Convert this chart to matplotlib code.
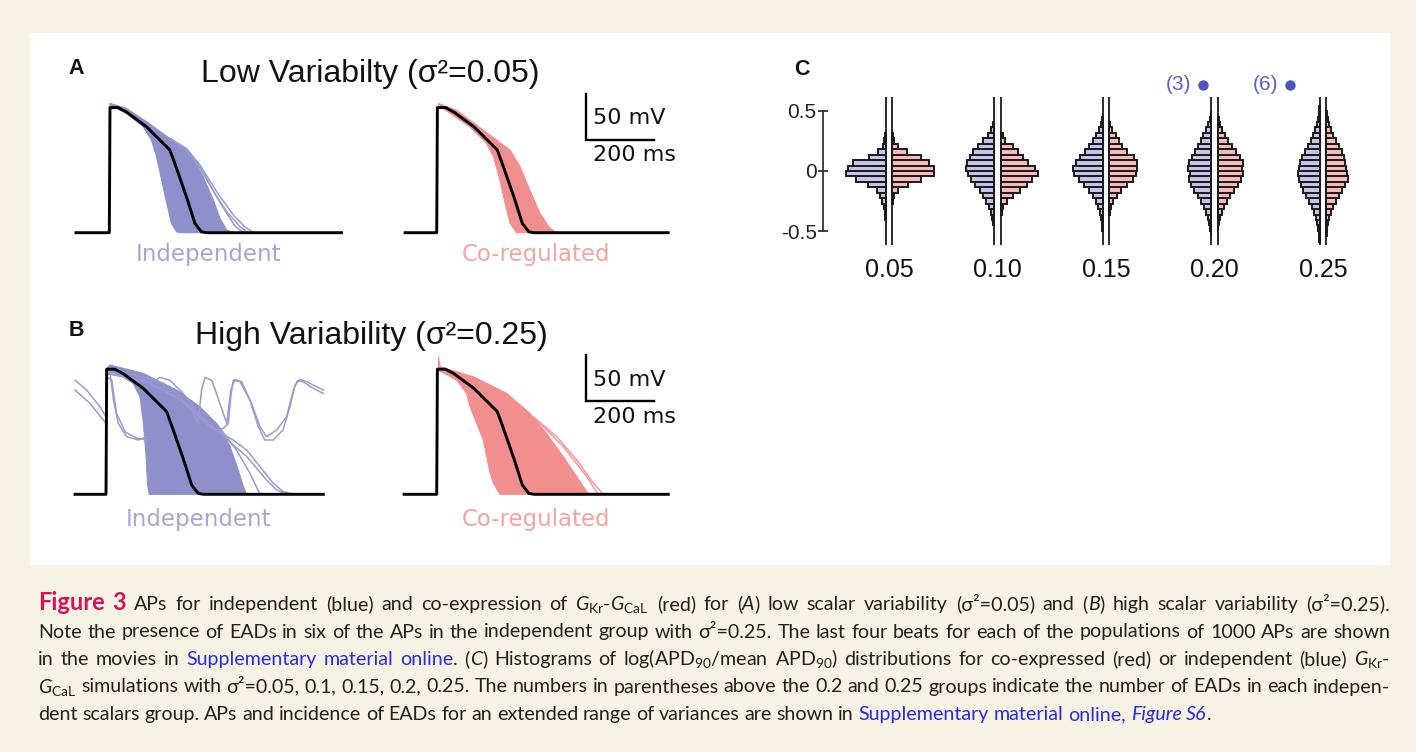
import numpy as np
import matplotlib
matplotlib.use('Agg')
import matplotlib.pyplot as plt
from matplotlib.patches import Rectangle

plt.rcParams['mathtext.fontset'] = 'custom'
plt.rcParams['mathtext.rm'] = 'Lato'
plt.rcParams['mathtext.it'] = 'Lato:italic'
plt.rcParams['mathtext.bf'] = 'Lato:bold'

# ------------------------------------------------------------------ data
# mean (baseline-model) action potential, ms / mV
MEAN_T = [0, 1, 2, 26, 51, 110, 178, 193, 227, 252, 271, 286]
MEAN_V = [-85, -20, 51, 51, 46, 30, 5, -10, -46, -75, -84, -85]
REST_V = -85
# panel order: A-independent, A-coregulated, B-independent, B-coregulated
PANEL_START = [-98, -93, -91, -96]
PANEL_END = [683, 681, 639, 681]

# population envelopes (late = last-repolarising edge, early = first)
A_IND_LATE_T = [2, 51, 110, 178, 218, 247, 276, 306, 325, 345, 365]
A_IND_LATE_V = [55.5, 50, 35.5, 17.4, 6.6, -4.3, -24, -49.5, -69, -82, -85]
A_IND_EARLY_T = [2, 51, 100, 124, 139, 154, 169, 183, 198, 208]
A_IND_EARLY_V = [53.6, 44.6, 30, 15.6, -2.5, -27.8, -53, -75, -84, -85]
A_IND_OUT_T = [[178, 227, 267, 316, 365, 399, 424],
               [178, 222, 257, 301, 345, 385, 409],
               [178, 230, 280, 330, 370, 395]]
A_IND_OUT_V = [[17.4, 6.5, -11.5, -40.5, -66, -78.7, -85],
               [17.4, 7.2, -8, -37, -62, -78.7, -85],
               [17.4, 5, -22, -55, -78, -85]]

A_CO_LATE_T = [5, 59, 137, 216, 245, 274, 304, 333, 353]
A_CO_LATE_V = [55.5, 48, 26.5, 4.8, -13, -38.7, -64, -80, -85]
A_CO_EARLY_T = [5, 98, 147, 167, 186, 201, 216, 235]
A_CO_EARLY_V = [53.6, 30, 12, -2.5, -27.8, -53, -75, -85]
A_CO_OUT_T = []
A_CO_OUT_V = []

B_IND_LATE_T = [2, 12, 110, 208, 276, 325, 365, 389, 404, 414]
B_IND_LATE_V = [52, 55.5, 46.4, 28.3, 10.2, -8, -33, -58.6, -76.7, -85]
B_IND_EARLY_T = [2, 41, 80, 100, 110, 118, 122, 127]
B_IND_EARLY_V = [50, 44.6, 35.5, 21, -8, -44, -73, -85]
B_IND_OUT_T = [
    [2, 61, 129, 188, 247, 271, 281, 291, 311, 335, 355, 367, 379, 399, 428, 453, 472, 502, 531, 551, 563, 580, 610, 639],
    [2, 51, 120, 149, 159, 188, 227, 267, 296, 325, 345, 360, 367, 374, 394, 423, 448, 467, 492, 521, 541, 556, 570, 590, 639],
    [2, 110, 208, 306, 374, 414, 453, 492, 521, 551],
    [2, 120, 237, 335, 414, 472, 502, 531],
    [-91, -57, -18, 0, 1, 12, 22, 36, 61, 95, 120],
    [-91, -47, -8, 0, 1, 17, 31, 56, 90, 122],
    [325, 384, 423, 453],
]
B_IND_OUT_V = [
    [48.2, 46.4, 41, 32, 10.2, -7.9, 28.3, 42, 39, 13.8, -7.9, 28.3, 40, 37.4, 13.8, -11.5, -22.4, -15.1, -0.7, 28.3, 38.4, 37.4, 30, 24.7],
    [46.4, 42.8, 35.5, 40, 42, 39, 24.7, 4.8, -8, -15, -13.3, -8, 21, 39, 37.4, 17.4, -11.5, -26, -26, -15, 10.2, 33.7, 40, 37.4, 28.3],
    [46.4, 39, 21, -11.5, -26, -37, -55, -73, -82, -85],
    [47, 37.4, 13.8, -18.8, -44, -69.4, -80.3, -85],
    [39, 28.3, 10.2, -0.7, 44.6, 46.4, 17.4, -8, -22.4, -26, -22.4],
    [28.3, 13.8, -4.3, -8, 42.8, 39, 3, -17, -24, -26],
    [-8, -37, -62, -85],
]

B_CO_LATE_T = [5, 10, 108, 206, 274, 323, 372, 412, 441, 451]
B_CO_LATE_V = [64.5, 53.6, 42.8, 24.7, 3, -18.8, -44, -65.8, -82, -85]
B_CO_EARLY_T = [5, 59, 88, 98, 118, 137, 147, 157, 167, 186]
B_CO_EARLY_V = [50, 39, 24.7, 10.2, -8, -26, -44, -62, -73, -85]
B_CO_OUT_T = [[284, 353, 412, 461, 490], [294, 372, 441, 475]]
B_CO_OUT_V = [[-0.7, -22.4, -47.7, -73, -85], [-4.3, -33, -65.8, -85]]

# histograms of log(APD90 / mean APD90); counts per bin, bins from -0.585 upward
SIGMA2_LABELS = ['0.05', '0.10', '0.15', '0.20', '0.25']
BIN_W = 0.045
BIN_EDGES = np.round(np.arange(-13, 14) * BIN_W, 4)
HIST_IND = [
    [0, 0, 0, 0, 2, 4, 8, 17, 30, 45, 90, 150, 200, 190, 165, 85, 40, 15, 8, 3, 0, 0, 0, 0, 0, 0],
    [0, 0, 0, 5, 10, 15, 25, 40, 55, 70, 95, 115, 130, 140, 135, 120, 105, 80, 55, 30, 15, 5, 0, 0, 0, 0],
    [0, 0, 3, 5, 10, 15, 25, 35, 50, 70, 95, 120, 145, 150, 135, 115, 90, 70, 50, 35, 20, 10, 5, 0, 0, 0],
    [0, 3, 5, 10, 15, 25, 35, 50, 65, 85, 100, 110, 105, 115, 110, 95, 80, 65, 50, 40, 25, 15, 8, 3, 0, 0],
    [3, 5, 8, 12, 20, 30, 40, 55, 70, 85, 95, 105, 110, 105, 100, 90, 75, 60, 45, 35, 25, 15, 8, 4, 2, 0],
]
HIST_CO = [
    [0, 0, 0, 0, 0, 0, 0, 5, 10, 29, 80, 145, 210, 210, 185, 145, 75, 29, 8, 3, 0, 0, 0, 0, 0, 0],
    [0, 0, 0, 0, 0, 5, 10, 30, 60, 95, 130, 155, 185, 170, 135, 110, 85, 60, 20, 10, 0, 0, 0, 0, 0, 0],
    [0, 0, 0, 0, 0, 5, 10, 20, 40, 60, 90, 120, 135, 140, 140, 125, 90, 65, 50, 35, 15, 5, 0, 0, 0, 0],
    [0, 0, 3, 5, 10, 20, 30, 45, 60, 80, 100, 115, 125, 120, 125, 110, 90, 70, 50, 35, 20, 10, 5, 0, 0, 0],
    [0, 3, 5, 10, 15, 25, 35, 50, 65, 80, 95, 110, 105, 100, 95, 90, 80, 65, 50, 35, 25, 12, 6, 3, 0, 0],
]
EAD_COUNTS = [None, None, None, 3, 6]

# ------------------------------------------------------------------ figure
W, H = 1416, 752
fig = plt.figure(figsize=(W / 100, H / 100), dpi=100)
fig.patch.set_facecolor('#f6f2e4')
fig.patches.append(Rectangle((30 / W, 1 - 565 / H), 1360 / W, 532 / H,
                             transform=fig.transFigure, facecolor='white',
                             edgecolor='none', zorder=-10))


def fx(px):
    return px / W


def fy(py):
    return 1 - py / H


def px_axes(x0, y0, x1, y1):
    ax = fig.add_axes([x0 / W, 1 - y1 / H, (x1 - x0) / W, (y1 - y0) / H])
    ax.patch.set_visible(False)
    return ax


BLUE_FILL, BLUE_LINE, BLUE_TXT = '#8f8fcc', '#9a9ad2', '#a5a5d8'
RED_FILL, RED_LINE, RED_TXT = '#f18f8f', '#f29a9a', '#f4a2a2'

MS_PX, MV_PX = 0.34, 0.92
T_LIM = (-110, 700)
V_LIM = (-100, 70)


def trace_axes(t0_px, rest_px):
    x0 = t0_px + T_LIM[0] * MS_PX
    x1 = t0_px + T_LIM[1] * MS_PX
    y0 = rest_px - (V_LIM[1] - REST_V) * MV_PX
    y1 = rest_px + (REST_V - V_LIM[0]) * MV_PX
    ax = px_axes(x0, y0, x1, y1)
    ax.set_xlim(*T_LIM)
    ax.set_ylim(*V_LIM)
    ax.axis('off')
    return ax


def draw_panel(ax, lt, lv, et, ev, ots, ovs, fill_c, line_c, t_start, t_end):
    ax.fill(list(lt) + list(et[::-1]), list(lv) + list(ev[::-1]),
            facecolor=fill_c, edgecolor=fill_c, lw=0.8, zorder=1)
    for ot, ov in zip(ots, ovs):
        ax.plot(ot, ov, color=line_c, lw=1.1, zorder=2, solid_joinstyle='round')
    t = [t_start] + MEAN_T + [t_end]
    v = [REST_V] + MEAN_V + [REST_V]
    ax.plot(t, v, color='black', lw=2.1, zorder=3, solid_joinstyle='round')


def scale_bar(ax):
    sb_t, sb_v = 440, 16
    ax.plot([sb_t, sb_t, sb_t + 200], [sb_v + 50, sb_v, sb_v], color='black',
            lw=1.7, clip_on=False, solid_joinstyle='miter')
    ax.text(sb_t + 20, sb_v + 23.5, '50 mV', ha='left', va='center',
            fontsize=16, family='DejaVu Sans', color='#111111')
    ax.text(sb_t + 20, sb_v - 16.5, '200 ms', ha='left', va='center',
            fontsize=16, family='DejaVu Sans', color='#111111')


def label(ax, t, s, color, v):
    ax.text(t, v, s, ha='center', va='center', fontsize=16.5,
            family='DejaVu Sans', color=color, clip_on=False)


axA1 = trace_axes(109.3, 232.7)
draw_panel(axA1, A_IND_LATE_T, A_IND_LATE_V, A_IND_EARLY_T, A_IND_EARLY_V,
           A_IND_OUT_T, A_IND_OUT_V, BLUE_FILL, BLUE_LINE, PANEL_START[0], PANEL_END[0])
label(axA1, 292, 'Independent', BLUE_TXT, -109)

axA2 = trace_axes(436.7, 232.7)
draw_panel(axA2, A_CO_LATE_T, A_CO_LATE_V, A_CO_EARLY_T, A_CO_EARLY_V,
           A_CO_OUT_T, A_CO_OUT_V, RED_FILL, RED_LINE, PANEL_START[1], PANEL_END[1])
label(axA2, 292, 'Co-regulated', RED_TXT, -109)
scale_bar(axA2)

axB1 = trace_axes(106, 494.3)
draw_panel(axB1, B_IND_LATE_T, B_IND_LATE_V, B_IND_EARLY_T, B_IND_EARLY_V,
           B_IND_OUT_T, B_IND_OUT_V, BLUE_FILL, BLUE_LINE, PANEL_START[2], PANEL_END[2])
label(axB1, 272, 'Independent', BLUE_TXT, -112)

axB2 = trace_axes(436.7, 494.3)
draw_panel(axB2, B_CO_LATE_T, B_CO_LATE_V, B_CO_EARLY_T, B_CO_EARLY_V,
           B_CO_OUT_T, B_CO_OUT_V, RED_FILL, RED_LINE, PANEL_START[3], PANEL_END[3])
label(axB2, 292, 'Co-regulated', RED_TXT, -112)
scale_bar(axB2)

# titles and panel letters
fig.text(fx(370), fy(82), 'Low Variabilty (σ²=0.05)', ha='center', va='baseline',
         fontsize=23, family='Liberation Sans', color='#111111')
fig.text(fx(371), fy(344), 'High Variability (σ²=0.25)', ha='center', va='baseline',
         fontsize=23, family='Liberation Sans', color='#111111')
for s, x, y in [('A', 76, 74), ('B', 76, 336), ('C', 802, 75)]:
    fig.text(fx(x), fy(y), s, ha='center', va='baseline', fontsize=15.5,
             weight='bold', family='Liberation Sans', color='#111111')

# ------------------------------------------------------------------ panel C
C_ZERO_PX, C_UNIT_PX = 171, 121
C_X0_PX, C_STEP_PX = 889, 108.5


def cy(py):
    return (C_ZERO_PX - py) / C_UNIT_PX


def cx(px):
    return (px - C_X0_PX) / C_STEP_PX


axc = px_axes(790, 60, 1385, 250)
axc.set_xlim(cx(790), cx(1385))
axc.set_ylim(cy(250), cy(60))
gap = 3.3 / C_STEP_PX
kc = 0.2 / C_STEP_PX
bin_c = BIN_EDGES[:-1] + BIN_W / 2
for i in range(len(SIGMA2_LABELS)):
    ind = np.array(HIST_IND[i])
    co = np.array(HIST_CO[i])
    m_i = ind > 0
    m_c = co > 0
    axc.barh(bin_c[m_i], -ind[m_i] * kc, height=BIN_W, left=i - gap,
             color='#c4c4eb', edgecolor='#1a1a1a', linewidth=1.4, zorder=2)
    axc.barh(bin_c[m_c], co[m_c] * kc, height=BIN_W, left=i + gap,
             color='#f7baba', edgecolor='#1a1a1a', linewidth=1.4, zorder=2)
    axc.vlines([i - gap, i + gap], -0.61, 0.61, color='#1a1a1a', lw=1.3, zorder=3)

# EAD annotations
for i, dot_px, txt_px in [(3, 1203, 1191), (4, 1290, 1278)]:
    axc.plot([cx(dot_px)], [cy(85)], 'o', ms=6.5, color='#4b54bf', clip_on=False)
    axc.text(cx(txt_px), cy(85), '(%d)' % EAD_COUNTS[i], ha='right', va='center',
             fontsize=15, family='Liberation Sans', color='#5a62c4', clip_on=False)

for sp in ['top', 'right', 'bottom']:
    axc.spines[sp].set_visible(False)
axc.spines['left'].set_position(('data', cx(823)))
axc.spines['left'].set_bounds(-0.5, 0.5)
axc.spines['left'].set_linewidth(1.3)
axc.spines['left'].set_color('#333333')
axc.set_yticks([-0.5, 0, 0.5])
axc.set_yticklabels(['-0.5', '0', '0.5'], fontsize=15, family='Liberation Sans',
                    color='#222222')
axc.tick_params(axis='y', direction='inout', length=7, width=1.3, color='#333333', pad=1)
axc.set_xticks(range(len(SIGMA2_LABELS)))
axc.set_xticklabels(SIGMA2_LABELS, fontsize=18, family='Liberation Sans', color='#111111')
axc.tick_params(axis='x', length=0, pad=6)

# ------------------------------------------------------------------ caption
CAP_FAMILY = ['Lato', 'DejaVu Sans']
STYLES = {
    'n': dict(color='#231f20'),
    'i': dict(color='#231f20', style='italic'),
    'fig': dict(color='#d4145a', weight='bold', scale=1.2),
    'l': dict(color='#2a2ae6'),
    'li': dict(color='#2a2ae6', style='italic'),
}
GKR = r'$G_{\mathrm{Kr}}$'
GCAL = r'$G_{\mathrm{CaL}}$'
CAPTION = [
    ([('Figure 3', 'fig'), (' APs for independent (blue) and co-expression of ', 'n'),
      (GKR + '-' + GCAL, 'n'), (' (red) for (', 'n'), ('A', 'i'),
      (') low scalar variability (σ²=0.05) and (', 'n'), ('B', 'i'),
      (') high scalar variability (σ²=0.25).', 'n')], True),
    ([('Note the presence of EADs in six of the APs in the independent group with σ²=0.25. '
       'The last four beats for each of the populations of 1000 APs are shown', 'n')], True),
    ([('in the movies in ', 'n'), ('Supplementary material online', 'l'), ('. (', 'n'),
      ('C', 'i'), (r') Histograms of log(APD$_{90}$/mean APD$_{90}$) distributions for '
                   r'co-expressed (red) or independent (blue) ', 'n'), (GKR + '-', 'n')], True),
    ([(GCAL, 'n'), (' simulations with σ²=0.05, 0.1, 0.15, 0.2, 0.25. The numbers in parentheses '
                    'above the 0.2 and 0.25 groups indicate the number of EADs in each indepen-', 'n')], True),
    ([('dent scalars group. APs and incidence of EADs for an extended range of variances are shown in ', 'n'),
      ('Supplementary material online, ', 'l'), ('Figure S6', 'li'), ('.', 'n')], False),
]
CAP_BASELINES = [610, 637.5, 665, 692.5, 720]
CAP_LEFT, CAP_RIGHT = 38, 1390

renderer = fig.canvas.get_renderer()


def tokenize(runs):
    words = [[]]
    for text, st in runs:
        parts = text.split(' ')
        for j, p in enumerate(parts):
            if j > 0:
                words.append([])
            if p:
                words[-1].append((p, st))
    return [w for w in words if w]


def make_text(s, st, fs):
    kw = dict(STYLES[st])
    scale = kw.pop('scale', 1.0)
    return fig.text(0, 0, s, fontsize=fs * scale, family=CAP_FAMILY, va='baseline',
                    ha='left', **kw)


def measure(words, fs):
    arts = []
    widths = []
    for w in words:
        row = []
        tot = 0
        for s, st in w:
            t = make_text(s, st, fs)
            bb = t.get_window_extent(renderer)
            row.append((t, bb.width))
            tot += bb.width
        arts.append(row)
        widths.append(tot)
    return arts, widths


target = CAP_RIGHT - CAP_LEFT
fs0 = 14.0
SPACE_EM = 0.24
scales = []
for runs, just in CAPTION:
    if not just:
        continue
    words = tokenize(runs)
    arts, widths = measure(words, fs0)
    nat = sum(widths) + (len(words) - 1) * SPACE_EM * fs0 * 100 / 72
    scales.append(target / nat)
    for row in arts:
        for t, _ in row:
            t.remove()
fs = fs0 * min(scales) * 0.998

for (runs, just), yb in zip(CAPTION, CAP_BASELINES):
    words = tokenize(runs)
    arts, widths = measure(words, fs)
    space = SPACE_EM * fs * 100 / 72
    if just:
        space = (target - sum(widths)) / (len(words) - 1)
    x = CAP_LEFT
    for row, wd in zip(arts, widths):
        xx = x
        for t, w in row:
            t.set_position((fx(xx), fy(yb)))
            xx += w
        x += wd + space

fig.savefig('out.png', dpi=100, facecolor=fig.get_facecolor())
